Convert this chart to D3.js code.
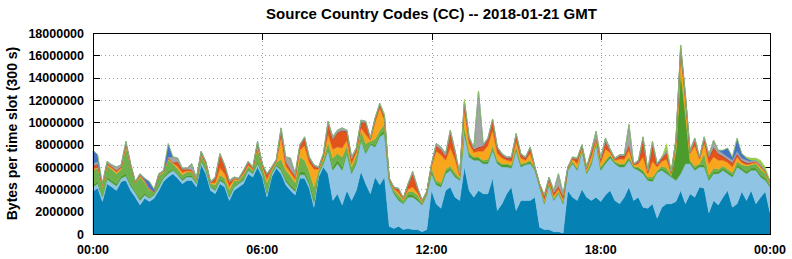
<!DOCTYPE html>
<html>
<head>
<meta charset="utf-8">
<script src="https://cdn.jsdelivr.net/npm/d3@7/dist/d3.min.js"></script>
<style>
  html, body { margin: 0; padding: 0; background: #ffffff; }
  svg { display: block; }
  text { font-family: "Liberation Sans", Arial, sans-serif; font-weight: bold; fill: #000; }
</style>
</head>
<body>
<div id="chart"></div>
<script>
// ---------- DATA (values in millions of bytes per 300 s slot, one value every 10 minutes) ----------
const TITLE = "Source Country Codes (CC) -- 2018-01-21 GMT";
const Y_LABEL = "Bytes per time slot (300 s)";
const SLOT_MINUTES = 10;
const xTickValues = [0, 360, 720, 1080, 1440];
const xTickLabels = ["00:00", "06:00", "12:00", "18:00", "00:00"];
const yTickValues = [0, 2000000, 4000000, 6000000, 8000000, 10000000, 12000000, 14000000, 16000000, 18000000];

const seriesNames = ["darkBlue", "lightBlue", "darkGreen", "green", "orange", "red", "darkRed", "gray", "blue", "lime"];
const seriesColors = ["#0581b3", "#8fc4e4", "#4b9b2d", "#6cb14b", "#f8a61b", "#e2541a", "#b23a2c", "#a4a4a4", "#4573c4", "#9bcd4a"];

const darkBlue = [3.8,4.1,2.9,4.5,4.2,3.9,4.7,4.8,3.9,3.3,2.6,3.2,2.9,3.2,3.9,4.7,5.1,5.4,5.0,4.5,4.8,4.8,4.2,6.2,5.4,3.9,3.6,4.5,4.2,3.0,3.9,4.2,4.5,5.4,5.1,6.0,5.1,
  3.3,5.1,5.9,5.4,4.4,3.9,3.5,5.0,5.0,4.1,2.4,5.1,6.0,5.4,3.0,3.6,2.6,3.9,3.0,3.9,5.6,4.5,3.6,5.1,4.4,5.1,
  0.7,0.5,0.7,0.4,0.5,0.4,0.4,0.2,0.4,3.9,
  2.7,2.3,3.9,4.2,3.3,3.0,6.0,3.9,3.3,3.9,3.6,3.6,5.0,2.1,2.7,3.6,4.2,2.1,3.0,3.0,3.0,3.3,0.6,0.4,0.4,0.2,0.2,0.1,3.9,3.3,3.0,4.0,3.3,3.0,3.3,
  2.9,3.5,3.9,3.0,2.7,3.3,4.2,3.0,3.3,2.4,2.3,2.7,1.4,2.4,2.7,2.7,2.9,3.9,2.7,3.6,3.3,4.2,4.1,1.9,3.0,2.6,3.3,3.9,2.4,2.7,3.8,3.0,3.9,2.7,3.3,3.8,1.9];

const lightBlue = [0.4,0.4,0.4,0.4,0.4,0.4,0.3,0.4,0.4,0.4,0.4,0.3,0.3,0.3,0.3,0.3,0.3,0.3,0.3,0.3,0.3,0.3,0.3,0.3,0.3,0.3,0.3,0.3,0.3,0.3,0.3,0.3,0.3,0.3,0.3,0.3,0.3,
  0.3,0.3,0.2,0.3,0.3,0.3,0.3,0.3,0.3,0.3,0.4,0.3,0.3,2.1,2.7,2.7,3.1,3.3,2.4,2.4,2.8,2.7,4.4,2.7,4.3,3.9,
  4.0,3.1,2.3,2.3,2.8,2.9,2.6,2.4,3.1,1.5,
  1.7,1.9,1.5,1.5,1.8,1.8,3.0,3.0,3.3,2.7,2.7,2.7,2.5,4.2,3.3,2.4,1.7,5.4,3.0,3.2,3.3,2.4,3.6,2.3,4.0,2.8,3.4,2.6,1.8,3.0,2.7,3.5,2.1,3.2,4.8,
  2.8,2.8,2.9,3.3,3.3,2.7,2.4,2.9,2.4,3.0,2.5,2.0,4.1,3.3,2.7,2.4,1.9,1.5,3.6,2.7,2.4,1.8,1.9,2.9,2.4,2.8,2.4,1.5,2.7,3.3,1.9,2.4,1.8,3.0,1.8,1.0,2.3];

const darkGreen = [.2,.2,.1,.2,.2,.2,.2,.2,.2,.15,.2,.2,.1,.1,.2,.1,.2,.15,.15,.15,.15,.15,.1,.15,.15,.1,.15,.15,.15,.15,.15,.1,.15,.15,.1,.2,.15,
  .2,.1,.1,.2,.2,.2,.2,.3,.3,.3,.4,.1,.1,.2,.3,.3,.3,.2,.2,.2,.2,.2,.1,.2,.2,.3,
  .1,.15,.2,.1,.2,.2,.2,.1,.1,.2,
  .2,.2,.2,.2,.2,.1,.3,.2,.2,.2,.2,.2,.2,.2,.2,.2,.2,.2,.2,.1,.2,.1,.1,.1,.1,.1,.1,.1,.1,.1,.1,.1,.1,.2,.1,
  .2,.2,.2,.1,.2,.2,.2,.1,.2,.2,.2,.2,.1,.2,.2,.1,2.6,9.1,4.4,.2,.2,.2,.2,.2,.2,.2,.2,.2,.2,.2,.2,.2,.2,.2,.2,.2,.1];

const green = [1.3,1.2,.8,1.0,1.0,.9,.6,2.4,1.5,.7,1.9,.9,.6,.2,.8,.4,1.0,.45,.4,.35,.3,.3,.2,.4,.35,.2,.35,.35,.35,.5,.45,.2,.35,.2,.2,1.2,.45,
  .8,.2,.2,.8,.8,.8,.6,1.3,1.0,.9,1.0,.2,.3,.5,.8,.6,.9,.5,.4,.5,.7,.7,.2,.5,.4,.5,
  .1,.2,.3,.2,.3,.3,.3,.1,.1,.3,
  .2,.2,.2,.2,.2,.1,.3,.2,.1,.1,.1,.2,.2,.1,.1,.1,.1,.1,.1,.1,.1,.05,.05,.1,.1,.1,.1,.1,.05,.1,.1,.1,.1,.1,.1,
  .1,.1,.1,.1,.1,.1,.1,.05,.1,.1,.1,.2,.1,.2,.3,.1,.1,.1,.1,.1,.2,.1,1.0,.3,.3,.2,.2,.2,.2,.3,.3,.5,.3,.4,.5,.4,.2];

const orange = [.1,.1,.1,.1,.1,.15,.1,.2,.1,.05,.1,.1,.1,0,.1,.1,.1,.05,.2,.2,.1,.1,.1,.1,.1,.1,.2,.6,.4,.3,.1,.1,.1,.1,.1,.2,.1,
  .3,.1,.1,2.0,.4,.3,.3,.6,1.3,.8,1.6,.1,.2,.7,.8,.6,.8,.5,.3,.3,.2,.8,.1,1.5,2.0,.4,
  0,.1,.2,.1,.2,.4,.2,.1,0,.2,
  2.6,2.5,.8,1.6,1.2,.2,1.5,.8,.4,.5,.8,1.2,1.4,.6,.5,.3,.3,.5,.5,.2,.6,.05,.05,.2,.2,.2,.2,.2,.05,.2,.4,.1,.2,.4,.2,
  .4,1.0,.2,.1,.4,.4,.6,.1,.3,1.2,.3,1.4,.3,.4,.8,.1,.6,1.6,1.2,.6,1.8,.4,1.0,1.0,1.0,.8,.5,.6,.5,.4,.2,.1,.1,.1,.2,.1,.1];

const red = [.2,.2,.1,.1,.1,.1,.1,.1,.05,.05,.1,.1,0,0,0,0,.1,.05,.4,.3,.15,.1,0,.15,.1,0,.4,1.1,.6,.4,.1,0,.2,.25,.1,.2,.1,
  .3,.1,.1,.5,.3,.2,.3,.3,.6,.3,.2,.1,.1,.9,.8,1.2,1.5,.7,.4,.2,.4,1.0,.1,.2,.2,.2,
  .1,.1,.3,.1,.4,1.1,.4,.1,.1,.1,
  .4,.4,.3,1.2,.5,.1,.5,.4,.2,.3,.4,.5,.7,.4,.2,.1,.2,.5,.2,.1,.4,.05,.05,.2,.1,.2,.2,.2,.05,.1,.3,.1,.1,.4,.1,
  .2,.6,.1,.1,.2,.2,.4,.05,.1,1.4,.1,1.3,.1,.2,.5,.1,.2,.4,.3,.1,.4,.1,.2,.5,.8,.5,.3,.2,.3,.2,.1,.1,.1,.1,.1,.1,.1];

const darkRed = [.1,.1,0,.05,.05,.05,.05,.05,0,0,0,0,0,0,0,0,0,0,.05,0,0,0,0,0,0,0,0,.1,.1,0,0,0,0,0,0,0,0,
  .1,0,0,.1,.1,.1,0,.1,.1,.1,.1,0,.1,.1,.1,.1,.1,.1,0,.1,.1,.1,0,.1,.1,.1,
  0,0,0,0,0,.1,0,0,0,0,
  .1,.1,.1,.2,.1,0,.2,.1,.1,.1,.1,.1,.2,.1,.1,.1,.1,.1,.1,.1,.1,0,0,.1,.1,.1,.1,.1,0,0,.1,0,0,.1,0,
  .1,.1,.05,0,.1,.1,.1,0,.1,.2,.1,.2,.1,.1,.1,0,.1,.1,.1,0,.1,0,.1,.1,.1,.1,.1,.1,.1,.1,.1,.1,0,0,0,0,0];

const gray = [.2,.2,.1,.15,.15,.3,.15,.15,.15,.05,.1,.05,.1,0,.1,.1,.1,.5,.3,.1,.1,.55,.1,.1,.1,.1,.1,.1,.1,.15,.1,.1,.1,.1,.1,.2,.1,
  .1,.1,.1,.2,.4,1.0,.2,.1,.1,.1,.1,.1,.1,.2,.2,.2,.2,.1,.2,.1,.2,.1,.1,.1,.1,.1,
  0,.05,.1,0,.1,.2,.1,0,0,.1,
  .2,.2,.2,.2,.2,.1,.1,.1,.1,5.0,.1,.1,.1,.1,.1,.1,.1,.1,.1,.1,.1,.05,.05,.1,.1,.2,1.1,.2,.05,.1,.1,.1,.1,.1,.6,
  .1,.3,.15,.1,.1,.1,1.8,.1,.1,.2,.1,.3,.1,.1,.2,.1,.1,.2,.1,.2,.2,.1,.2,.2,.6,.3,.2,.2,.2,.2,.2,.2,.1,.1,.2,.1,0];

const blue = [1.2,.6,0,0,0,0,0,0,0,0,0,.15,.6,.2,0,0,1.2,0,0,0,0,0,0,0,0,0,0,0,0,0,0,0,0,0,0,0,0,
  0,0,0,0,0,0,0,0,0,0,0,0,0,0,0,0,0,0,0,0,0,0,0,0,0,0,
  0,0,0,0,0,0,0,0,0,0,
  0,0,0,0,0,0,0,0,0,0,0,0,0,0,0,0,0,0,0,0,0,0,0,0,0,0,0,0,0,0,0,0,0,0,0,
  0,0,0,0,0,0,0,0,0,0,0,0,0,0,0,0,0,0,0,0,0,0,0,0,0,0,.3,.8,.3,1.2,.4,.2,.1,0,0,0,0];

const lime = [0,0,0,0,0,0,0,0,0,0,0,0,0,0,0,0,0,0,0,0,0,0,0,0,0,0,0,0,0,0,0,0,0,0,0,0,0,
  0,0,0,0,0,0,0,0,0,0,0,0,0,0,0,0,0,0,0,0,0,0,0,0,0,.2,
  0,0,0,0,0,0,0,0,0,0,
  0,0,0,0,0,0,.2,0,0,0,0,0,0,0,0,0,0,0,0,0,0,0,0,0,0,0,0,0,0,0,0,0,0,0,0,
  0,0,0,0,0,0,0,0,0,0,0,0,0,0,.6,0,0,0,0,0,0,0,0,0,0,0,0,0,0,0,0,.1,.2,.2,.3,.3,.1];

const seriesValues = [darkBlue, lightBlue, darkGreen, green, orange, red, darkRed, gray, blue, lime];
const UNIT = 1e6;

// ---------- LAYOUT ----------
const W = 792, H = 259;
const plot = { left: 93, right: 770, top: 33, bottom: 234 };

const rows = darkBlue.map((_, i) => {
  const r = { t: i * SLOT_MINUTES };
  seriesNames.forEach((n, k) => { r[n] = seriesValues[k][i] * UNIT; });
  return r;
});

const x = d3.scaleLinear().domain([0, 1440]).range([plot.left, plot.right]);
const y = d3.scaleLinear().domain([0, 18000000]).range([plot.bottom, plot.top]);

const svg = d3.select("#chart").append("svg").attr("width", W).attr("height", H);
svg.append("rect").attr("width", W).attr("height", H).attr("fill", "#fff");

// grid (behind data)
const grid = svg.append("g").attr("stroke", "#a0a0a0").attr("stroke-width", 1).attr("stroke-dasharray", "1,3");
grid.selectAll("line.h").data(yTickValues.slice(1, -1)).join("line")
  .attr("x1", plot.left).attr("x2", plot.right)
  .attr("y1", d => Math.round(y(d)) + 0.5).attr("y2", d => Math.round(y(d)) + 0.5);
grid.selectAll("line.v").data(xTickValues.slice(1, -1)).join("line")
  .attr("y1", plot.top).attr("y2", plot.bottom)
  .attr("x1", d => Math.round(x(d)) + 0.5).attr("x2", d => Math.round(x(d)) + 0.5);

// tick marks (inward, both sides)
const ticks = svg.append("g").attr("stroke", "#000").attr("stroke-width", 1);
yTickValues.forEach(v => {
  const yy = Math.round(y(v)) + 0.5;
  ticks.append("line").attr("x1", plot.left).attr("x2", plot.left + 7).attr("y1", yy).attr("y2", yy);
  ticks.append("line").attr("x1", plot.right - 7).attr("x2", plot.right).attr("y1", yy).attr("y2", yy);
});
xTickValues.forEach(v => {
  const xx = Math.round(x(v)) + 0.5;
  ticks.append("line").attr("x1", xx).attr("x2", xx).attr("y1", plot.top).attr("y2", plot.top + 7);
  ticks.append("line").attr("x1", xx).attr("x2", xx).attr("y1", plot.bottom - 7).attr("y2", plot.bottom);
});

// stacked areas
const stack = d3.stack().keys(seriesNames);
const layers = stack(rows);
const area = d3.area()
  .x(d => x(d.data.t))
  .y0(d => y(d[0]))
  .y1(d => y(d[1]))
  .curve(d3.curveLinear);
svg.append("g").selectAll("path").data(layers).join("path")
  .attr("d", area)
  .attr("fill", (d, i) => seriesColors[i])
  .attr("stroke", (d, i) => seriesColors[i])
  .attr("stroke-width", 0.4);

// border
svg.append("rect")
  .attr("x", plot.left + 0.5).attr("y", plot.top + 0.5)
  .attr("width", plot.right - plot.left).attr("height", plot.bottom - plot.top)
  .attr("fill", "none").attr("stroke", "#000").attr("stroke-width", 1);

// y tick labels
svg.append("g").selectAll("text").data(yTickValues).join("text")
  .attr("x", 84).attr("y", d => y(d)).attr("dy", "0.36em")
  .attr("text-anchor", "end").style("font-size", "12.5px")
  .text(d => d3.format("d")(d));

// x tick labels
svg.append("g").selectAll("text").data(xTickValues).join("text")
  .attr("x", d => x(d)).attr("y", 253.5)
  .attr("text-anchor", "middle").style("font-size", "12.5px")
  .text((d, i) => xTickLabels[i]);

// title
svg.append("text").attr("x", (plot.left + plot.right) / 2).attr("y", 19)
  .attr("text-anchor", "middle").style("font-size", "15px").text(TITLE);

// y axis label
svg.append("text")
  .attr("transform", `translate(17,${(plot.top + plot.bottom) / 2}) rotate(-90)`)
  .attr("text-anchor", "middle").style("font-size", "14px").text(Y_LABEL);
</script>
</body>
</html>
